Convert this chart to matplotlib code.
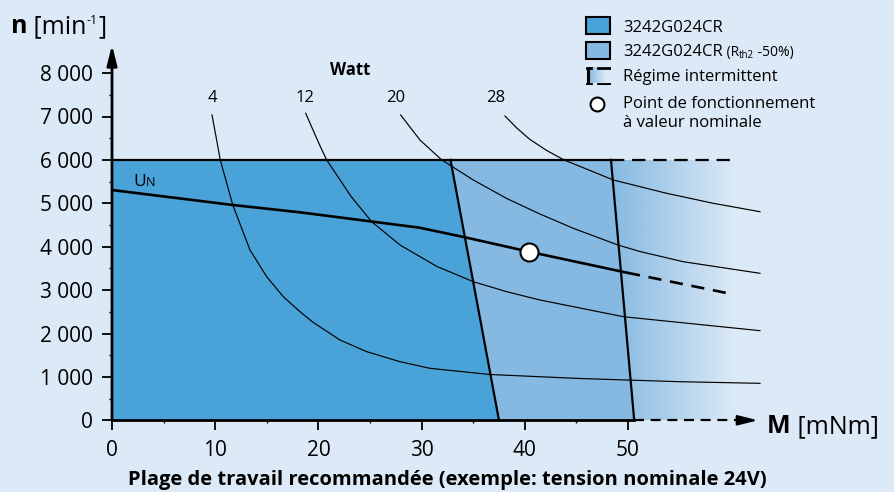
import numpy as np
import matplotlib
matplotlib.use('Agg')
import matplotlib.pyplot as plt
from matplotlib.patches import Polygon, Rectangle
from matplotlib.colors import to_rgb

plt.rcParams['font.family'] = ['Open Sans', 'DejaVu Sans']

# --- données (M en mNm, n en min-1) ---
m_watt_4 = [9.69, 10.08, 10.49, 11.7, 13.37, 14.99, 16.6, 18.22, 19.51, 22.09, 24.68, 27.91, 30.81,
            36.63, 45.35, 55.04, 62.79]
n_watt_4 = [7035, 6535, 6000, 4965, 3924, 3309, 2848, 2502, 2253, 1850, 1581, 1350, 1198,
            1055, 963, 889, 852]

m_watt_12 = [18.77, 19.84, 20.32, 20.8, 23.16, 25.16, 27.91, 31.49, 35.01, 38.25, 41.47, 49.55, 62.79]
n_watt_12 = [7074, 6493, 6240, 6000, 5160, 4576, 4039, 3544, 3194, 2963, 2772, 2387, 2065]

m_watt_20 = [27.97, 29.84, 31.95, 35.01, 38.25, 41.47, 44.7, 49.03, 51.16, 55.36, 62.79]
n_watt_20 = [7035, 6459, 6000, 5537, 5111, 4753, 4424, 4039, 3889, 3654, 3387]

m_watt_28 = [38.08, 39.22, 40.5, 42.12, 43.8, 48.58, 53.75, 58.26, 62.79]
n_watt_28 = [7011, 6735, 6470, 6217, 6000, 5537, 5230, 5000, 4806]

puissances = ['4', '12', '20', '28']

m_un = [0, 11.7, 18.2, 29.8, 34.2, 40.4, 49.9]
n_un = [5306, 4961, 4793, 4438, 4217, 3885, 3401]
m_un_tirets = [49.9, 59.7]
n_un_tirets = [3401, 2926]

m_nominal = 40.4
n_nominal = 3885

n_max = 6000
m_limite_fonce = [32.8, 37.5]      # à n_max puis à n = 0
m_limite_claire = [48.35, 50.6]
m_fin_intermittent = 60.3

graduations_m = [0, 10, 20, 30, 40, 50]
graduations_n = [0, 1000, 2000, 3000, 4000, 5000, 6000, 7000, 8000]

# --- couleurs ---
fond = '#dce9f6'
bleu_fonce = '#4aa3d8'
bleu_clair = '#85b9e1'

W, H = 895, 492


def fx(x):
    return x / W


def fy(y):
    return 1 - y / H


fig = plt.figure(figsize=(W / 100, H / 100), dpi=100, facecolor=fond)
ax = fig.add_axes([fx(112), fy(420.3), 63 * 10.32 / W, 8700 * 0.0434 / H])
ax.set_facecolor('none')

# zones
ax.add_patch(Polygon([(0, 0), (0, n_max), (m_limite_fonce[0], n_max), (m_limite_fonce[1], 0)],
                     closed=True, facecolor=bleu_fonce, edgecolor='none', zorder=1))
ax.add_patch(Polygon([(m_limite_fonce[1], 0), (m_limite_fonce[0], n_max),
                      (m_limite_claire[0], n_max), (m_limite_claire[1], 0)],
                     closed=True, facecolor=bleu_clair, edgecolor='none', zorder=1))

# dégradé régime intermittent
degrade = np.zeros((1, 256, 4))
degrade[..., :3] = to_rgb(bleu_clair)
degrade[..., 3] = np.linspace(1, 0, 256)
image = ax.imshow(degrade, extent=(m_limite_claire[0], m_fin_intermittent, 0, n_max),
                  aspect='auto', interpolation='bilinear', zorder=1)
contour = Polygon([(m_limite_claire[0], n_max), (m_fin_intermittent, n_max),
                   (m_fin_intermittent, 0), (m_limite_claire[1], 0)],
                  closed=True, facecolor='none', edgecolor='none', transform=ax.transData)
ax.add_patch(contour)
image.set_clip_path(contour)

# courbes de puissance
for m, n in [(m_watt_4, n_watt_4), (m_watt_12, n_watt_12),
             (m_watt_20, n_watt_20), (m_watt_28, n_watt_28)]:
    ax.plot(m, n, color='black', lw=0.85, zorder=2, clip_on=False)

# limites
ax.plot(m_limite_fonce, [n_max, 0], color='black', lw=1.6, zorder=3)
ax.plot(m_limite_claire, [n_max, 0], color='black', lw=1.6, zorder=3)
ax.plot([0, m_limite_claire[0]], [n_max, n_max], color='black', lw=1.6, zorder=3)
ax.plot([m_limite_claire[0], m_fin_intermittent], [n_max, n_max], color='black', lw=1.6,
        dashes=(6, 3.5), zorder=3)

# caractéristique UN
ax.plot(m_un, n_un, color='black', lw=1.9, zorder=4)
ax.plot(m_un_tirets, n_un_tirets, color='black', lw=1.9, dashes=(5, 3.3), zorder=4)
ax.plot([m_nominal], [n_nominal], 'o', ms=13, mfc='white', mec='black', mew=1.5, zorder=5)

# axes avec flèches
ax.annotate('', xy=(0, 8650), xytext=(0, 0), annotation_clip=False,
            arrowprops=dict(arrowstyle='-|>,head_length=1.2,head_width=0.3', mutation_scale=10,
                            color='black', lw=2, shrinkA=0, shrinkB=0), zorder=6)
ax.plot([0, m_limite_claire[1]], [0, 0], color='black', lw=2, zorder=6, clip_on=False)
ax.plot([m_limite_claire[1], 61.0], [0, 0], color='black', lw=1.6, dashes=(4.5, 3), zorder=6, clip_on=False)
ax.annotate('', xy=(62.6, 0), xytext=(60.8, 0), annotation_clip=False,
            arrowprops=dict(arrowstyle='-|>,head_length=1.2,head_width=0.3', mutation_scale=10,
                            color='black', lw=1.6, shrinkA=0, shrinkB=0), zorder=6)

ax.set_xlim(0, 63)
ax.set_ylim(0, 8700)
for s in ax.spines.values():
    s.set_visible(False)

ax.set_xticks(graduations_m)
ax.set_xticklabels([str(v) for v in graduations_m])
ax.set_xticks([5, 15, 25, 35, 45], minor=True)
ax.set_yticks(graduations_n)
ax.set_yticklabels([f'{v:,}'.replace(',', ' ') for v in graduations_n])
ax.set_yticks([500 + 1000 * i for i in range(8)], minor=True)
ax.tick_params(axis='both', which='major', direction='out', length=7, width=1.3,
               labelsize=15, colors='black')
ax.tick_params(axis='both', which='minor', direction='out', length=2.5, width=1.0)
ax.tick_params(axis='y', which='major', pad=7)
ax.tick_params(axis='x', which='major', pad=7)

# étiquettes des courbes
for texte, m_lab in zip(puissances, [9.7, 18.7, 27.5, 37.2]):
    ax.text(m_lab, 7426, texte, fontsize=12, ha='center', va='center')
ax.text(23.1, 8071, 'Watt', fontsize=12, fontweight='bold', ha='center', va='center')

renderer = fig.canvas.get_renderer()


def texte_suite(x_px, y_base, morceaux):
    x = x_px
    for txt, taille, poids, dy in morceaux:
        t = fig.text(fx(x), fy(y_base + dy), txt, fontsize=taille, fontweight=poids,
                     ha='left', va='baseline')
        x += t.get_window_extent(renderer).width
    return x


texte_suite(133, 186, [('U', 12.5, 'normal', 0), ('N', 9, 'normal', 0)])
texte_suite(11, 33, [('n', 18, 'bold', 0), (' [min', 18, 'normal', 0),
                     ('-1', 9, 'normal', -9), (']', 18, 'normal', 0)])
texte_suite(767, 433, [('M', 18, 'bold', 0), (' [mNm]', 18, 'normal', 0)])

fig.text(0.5, fy(480), 'Plage de travail recommandée (exemple: tension nominale 24V)',
         fontsize=14.5, fontweight='bold', ha='center', va='center')

# légende
fig.patches.append(Rectangle((fx(586), fy(34)), 24 / W, 17 / H, transform=fig.transFigure,
                             facecolor=bleu_fonce, edgecolor='black', lw=1.5))
fig.patches.append(Rectangle((fx(586), fy(59)), 24 / W, 17 / H, transform=fig.transFigure,
                             facecolor=bleu_clair, edgecolor='black', lw=1.5))

icone = fig.add_axes([fx(586), fy(85), 25 / W, 19 / H])
icone.set_axis_off()
deg_icone = np.zeros((1, 64, 4))
deg_icone[..., :3] = to_rgb(bleu_clair)
deg_icone[..., 3] = np.linspace(1, 0, 64)
icone.imshow(deg_icone, extent=(2, 20, 1.5, 17.5), aspect='auto', interpolation='bilinear')
icone.plot([2, 2], [1.2, 17.8], color='black', lw=2.2, solid_capstyle='butt')
icone.plot([1, 5], [1.5, 1.5], color='black', lw=2)
icone.plot([1, 5], [17.5, 17.5], color='black', lw=2)
icone.plot([12, 24], [1.5, 1.5], color='black', lw=2)
icone.plot([12, 24], [17.5, 17.5], color='black', lw=2)
icone.set_xlim(0, 25)
icone.set_ylim(0, 19)

fig.add_artist(plt.Line2D([fx(597)], [fy(104)], marker='o', ms=10, mfc='white', mec='black',
                          mew=1.5, transform=fig.transFigure))

texte_suite(623, 32, [('3242G024CR', 12, 'normal', 0)])
texte_suite(623, 56, [('3242G024CR', 12, 'normal', 0), (' (R', 10, 'normal', 0),
                      ('th2', 7, 'normal', 2), (' -50%)', 10, 'normal', 0)])
texte_suite(623, 81, [('Régime intermittent', 12, 'normal', 0)])
texte_suite(623, 108, [('Point de fonctionnement', 12, 'normal', 0)])
texte_suite(623, 127, [('à valeur nominale', 12, 'normal', 0)])

fig.savefig('out.png', dpi=100, facecolor=fond)
